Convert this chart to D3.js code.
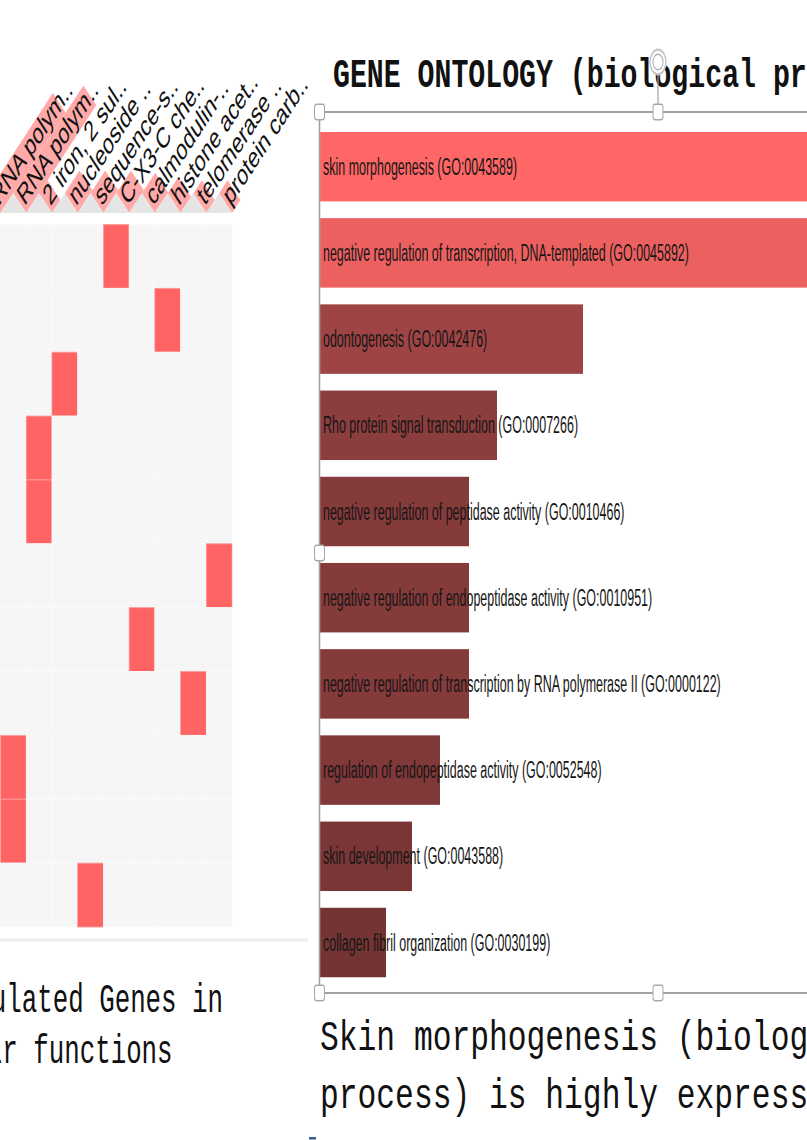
<!DOCTYPE html>
<html>
<head>
<meta charset="utf-8">
<script src="https://cdn.jsdelivr.net/npm/d3@7"></script>
<style>
  html, body { margin: 0; padding: 0; background: #fff; overflow: hidden; }
  svg { display: block; }
</style>
</head>
<body>
<svg id="slide" width="807" height="1140"></svg>
<script>
// ---- heatmap: enriched molecular-function terms (columns) vs. up-regulated genes (rows)
const termLabels = [
  "RNA polym..", "RNA polym..", "2 iron, 2 sul..", "nucleoside ..", "sequence-s..",
  "C-X3-C che..", "calmodulin-..", "histone acet..", "telomerase ..", "protein carb.."
];
// combined score of each term, drawn as the pink band behind its label
const termScores = [9.3, 10.0, 1.2, 2.1, 2.1, 2.1, 1.9, 1.5, 1.2, 1.2];
// for every gene row, the term column it belongs to
const geneHits = [5, 7, 3, 2, 2, 9, 6, 8, 1, 1, 4];

// ---- bar chart: GO biological process enrichment
const goTerms = [
  "skin morphogenesis (GO:0043589)",
  "negative regulation of transcription, DNA-templated (GO:0045892)",
  "odontogenesis (GO:0042476)",
  "Rho protein signal transduction (GO:0007266)",
  "negative regulation of peptidase activity (GO:0010466)",
  "negative regulation of endopeptidase activity (GO:0010951)",
  "negative regulation of transcription by RNA polymerase II (GO:0000122)",
  "regulation of endopeptidase activity (GO:0052548)",
  "skin development (GO:0043588)",
  "collagen fibril organization (GO:0030199)"
];
const goScores = [70.0, 62.0, 26.3, 17.7, 14.9, 14.9, 14.9, 12.0, 9.2, 6.6];

const titleText = "GENE ONTOLOGY (biological process)";
const leftCaption = ["Up-regulated Genes in", "their functions"];
const rightCaption = ["Skin morphogenesis (biological", "process) is highly expressed"];

// The slide is shown stretched vertically; everything is laid out in
// unstretched units and the whole drawing is scaled once.
const K = 1.54;
const Y = v => v / K;

const svg = d3.select("#slide");
const root = svg.append("g").attr("transform", `scale(1,${K})`);

// ================= heatmap =================
const heat = root.append("g");
const colX = d3.scaleBand().domain(d3.range(termLabels.length)).range([-25.2, 232]);
const rowY = d3.scaleBand().domain(d3.range(geneHits.length)).range([Y(224.5), Y(927)]);
const cw = colX.bandwidth();
const headBase = Y(213);
const bandThick = cw / Math.SQRT2;
const bandLen = d3.scaleLinear().domain([0, 10]).range([0, 99]);

// cells
const cells = [];
geneHits.forEach((hit, r) => {
  termLabels.forEach((_, c) => cells.push({ r, c, on: c === hit }));
});
heat.selectAll("rect.cell").data(cells).join("rect")
  .attr("class", "cell")
  .attr("x", d => colX(d.c))
  .attr("y", d => rowY(d.r))
  .attr("width", cw)
  .attr("height", rowY.bandwidth())
  .attr("fill", d => d.on ? "#ff6464" : "#f6f6f6")
  .attr("stroke", d => d.on ? "#ff9a9a" : "#fbfbfb")
  .attr("stroke-width", 0.6);

// pink score bands and rotated labels
const heads = heat.selectAll("g.head").data(termLabels).join("g")
  .attr("class", "head")
  .attr("transform", (d, i) => `translate(${colX(i) + cw},${headBase}) rotate(-45)`);
heads.append("rect")
  .attr("x", 0)
  .attr("y", -bandThick)
  .attr("width", (d, i) => bandLen(termScores[i]))
  .attr("height", bandThick)
  .attr("fill", "#ffa9a9");

// gray triangles at the foot of every column header
heat.selectAll("path.foot").data(termLabels).join("path")
  .attr("class", "foot")
  .attr("d", (d, i) => {
    const l = colX(i), r = l + cw;
    return `M${l},${headBase}L${r},${headBase}L${l + cw / 2},${headBase - cw / 2}Z`;
  })
  .attr("fill", "#e5e5e5");

heads.append("text")
  .attr("x", 2)
  .attr("y", -4)
  .attr("font-family", "'Liberation Sans', Arial, sans-serif")
  .attr("font-size", 19)
  .attr("fill", "#111")
  .text(d => d);

// separator under the heatmap
heat.append("rect")
  .attr("x", 0).attr("y", Y(938.5))
  .attr("width", 308).attr("height", Y(3))
  .attr("fill", "#eeeeee");

// caption under the heatmap
const capCenters = [60.5, 56.5];
heat.selectAll("text.cap").data(leftCaption).join("text")
  .attr("class", "cap")
  .attr("x", (d, i) => capCenters[i])
  .attr("y", (d, i) => Y(1012 + i * 51))
  .attr("text-anchor", "middle")
  .attr("font-family", "'Courier New', 'Liberation Mono', monospace")
  .attr("font-size", 25.8)
  .attr("fill", "#111")
  .text(d => d);

// ================= bar chart =================
const bars = root.append("g");
const barY = d3.scaleBand().domain(d3.range(goTerms.length))
  .range([Y(123.6), Y(985.6)]).paddingInner(0.194).paddingOuter(0.097);
const barX = d3.scaleLinear().domain([0, 70]).range([320, 1020]);
const barColor = d3.scaleLinear()
  .domain([d3.min(goScores), d3.max(goScores)])
  .range(["#743434", "#ff6666"]);

bars.selectAll("rect.bar").data(goScores).join("rect")
  .attr("class", "bar")
  .attr("x", barX(0))
  .attr("y", (d, i) => barY(i))
  .attr("width", d => barX(d) - barX(0))
  .attr("height", barY.bandwidth())
  .attr("fill", d => barColor(d));

// condensed labels written over the bars
bars.selectAll("text.lbl").data(goTerms).join("text")
  .attr("class", "lbl")
  .attr("transform", (d, i) => `translate(${barX(0) + 3},${barY(i) + barY.bandwidth() / 2}) scale(0.81,1)`)
  .attr("dominant-baseline", "central")
  .attr("font-family", "'Liberation Sans Narrow', 'Arial Narrow', 'Liberation Sans', sans-serif")
  .attr("font-size", 15.4)
  .attr("fill", "#161616")
  .text(d => d);

// chart title
root.append("text")
  .attr("transform", `translate(333,${Y(87)}) scale(1,0.95)`)
  .attr("font-family", "'Courier New', 'Liberation Mono', monospace")
  .attr("font-weight", "bold")
  .attr("font-size", 28.2)
  .attr("fill", "#111")
  .text(titleText);

// caption under the bar chart
root.selectAll("text.rcap").data(rightCaption).join("text")
  .attr("class", "rcap")
  .attr("transform", (d, i) => `translate(320,${Y(1050 + i * 58)}) scale(1,0.9)`)
  .attr("font-family", "'Courier New', 'Liberation Mono', monospace")
  .attr("font-size", 31.3)
  .attr("fill", "#111")
  .text(d => d);

// ---- selection frame around the bar chart picture
const frame = root.append("g").attr("fill", "none").attr("stroke", "#a3a3a3");
const fTop = Y(112), fBot = Y(993), fLeft = 319.5, fMid = 658;
frame.append("line").attr("x1", fLeft).attr("x2", 807).attr("y1", fTop).attr("y2", fTop).attr("stroke-width", 1.2);
frame.append("line").attr("x1", fLeft).attr("x2", 807).attr("y1", fBot).attr("y2", fBot).attr("stroke-width", 1.2);
frame.append("line").attr("x1", fLeft).attr("x2", fLeft).attr("y1", fTop).attr("y2", fBot).attr("stroke-width", 1.6);
frame.append("line").attr("x1", fMid).attr("x2", fMid).attr("y1", Y(70)).attr("y2", fTop).attr("stroke-width", 1.2);
frame.append("circle").attr("cx", fMid).attr("cy", Y(62)).attr("r", 8).attr("stroke", "#c4c4c4").attr("stroke-width", 1.4).attr("fill", "#fff");
frame.append("circle").attr("cx", fMid).attr("cy", Y(62)).attr("r", 5).attr("stroke", "#b0b0b0").attr("stroke-width", 1);
const handles = [[fLeft, fTop], [fMid, fTop], [fLeft, Y(553)], [fLeft, fBot], [fMid, fBot]];
frame.selectAll("rect.h").data(handles).join("rect")
  .attr("class", "h")
  .attr("x", d => d[0] - 5).attr("y", d => d[1] - 5)
  .attr("width", 10).attr("height", 10)
  .attr("rx", 2)
  .attr("fill", "#fff")
  .attr("stroke", "#a8a8a8")
  .attr("stroke-width", 1);

// small footer mark
root.append("rect").attr("x", 309).attr("y", Y(1137)).attr("width", 7).attr("height", Y(2.5)).attr("fill", "#3b5a99");
</script>
</body>
</html>
